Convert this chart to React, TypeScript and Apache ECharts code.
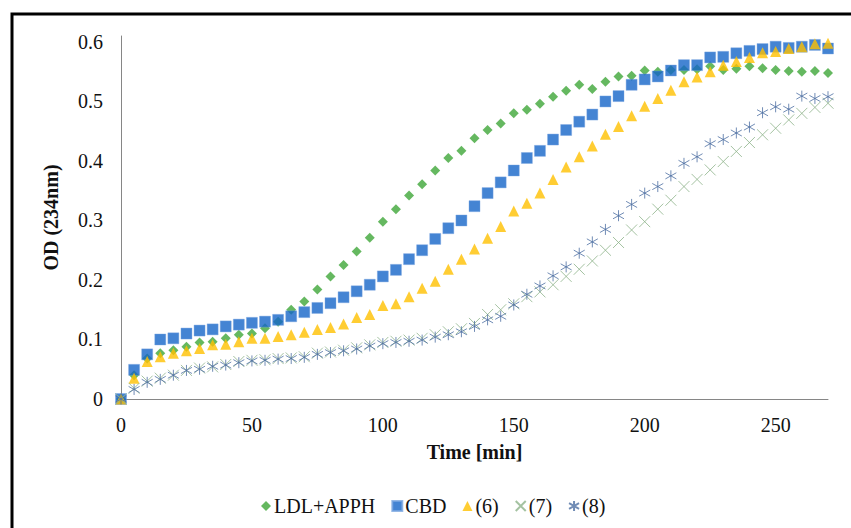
import React, { useEffect, useRef } from "react";
import * as echarts from "echarts";

const times = [
  0, 5, 10, 15, 20, 25, 30, 35, 40, 45, 50, 55, 60, 65, 70, 75, 80, 85, 90, 95,
  100, 105, 110, 115, 120, 125, 130, 135, 140, 145, 150, 155, 160, 165, 170, 175,
  180, 185, 190, 195, 200, 205, 210, 215, 220, 225, 230, 235, 240, 245, 250, 255,
  260, 265, 270,
];

const ldlApph = [
  0, 0.04, 0.068, 0.077, 0.082, 0.088, 0.095, 0.096, 0.102, 0.108, 0.11, 0.119,
  0.13, 0.15, 0.164, 0.184, 0.206, 0.225, 0.248, 0.271, 0.298, 0.319, 0.342,
  0.361, 0.384, 0.405, 0.417, 0.438, 0.452, 0.463, 0.48, 0.486, 0.496, 0.508,
  0.518, 0.528, 0.521, 0.533, 0.542, 0.543, 0.552, 0.55, 0.553, 0.553, 0.554,
  0.559, 0.553, 0.555, 0.559, 0.556, 0.553, 0.551, 0.55, 0.551, 0.548,
];

const cbd = [
  0, 0.049, 0.075, 0.1, 0.102, 0.11, 0.115, 0.117, 0.122, 0.125, 0.128, 0.13,
  0.133, 0.139, 0.146, 0.153, 0.161, 0.171, 0.181, 0.192, 0.206, 0.217, 0.235,
  0.25, 0.269, 0.287, 0.3, 0.324, 0.346, 0.364, 0.384, 0.405, 0.417, 0.436,
  0.452, 0.466, 0.478, 0.5, 0.509, 0.528, 0.537, 0.542, 0.552, 0.561, 0.561,
  0.574, 0.575, 0.581, 0.585, 0.588, 0.592, 0.59, 0.592, 0.595, 0.589,
];

const s6 = [
  0, 0.035, 0.063, 0.071, 0.077, 0.081, 0.085, 0.091, 0.092, 0.096, 0.102, 0.102,
  0.105, 0.108, 0.112, 0.117, 0.12, 0.126, 0.137, 0.142, 0.157, 0.16, 0.172,
  0.186, 0.198, 0.218, 0.235, 0.252, 0.27, 0.29, 0.316, 0.329, 0.346, 0.369,
  0.39, 0.407, 0.425, 0.445, 0.458, 0.476, 0.492, 0.505, 0.519, 0.533, 0.541,
  0.55, 0.561, 0.567, 0.574, 0.582, 0.584, 0.589, 0.592, 0.597, 0.598,
];

const s7 = [
  0, 0.018, 0.03, 0.035, 0.04, 0.048, 0.052, 0.054, 0.058, 0.063, 0.065, 0.066,
  0.068, 0.069, 0.071, 0.077, 0.079, 0.082, 0.086, 0.091, 0.095, 0.097, 0.099,
  0.102, 0.108, 0.113, 0.118, 0.127, 0.142, 0.15, 0.16, 0.172, 0.18, 0.192,
  0.206, 0.218, 0.232, 0.25, 0.263, 0.284, 0.298, 0.319, 0.334, 0.357, 0.369,
  0.385, 0.399, 0.416, 0.431, 0.444, 0.455, 0.469, 0.48, 0.49, 0.497,
];

const s8 = [
  0, 0.016, 0.028, 0.033, 0.04, 0.048, 0.05, 0.055, 0.057, 0.061, 0.064, 0.065,
  0.067, 0.068, 0.07, 0.075, 0.078, 0.081, 0.084, 0.089, 0.093, 0.095, 0.097,
  0.099, 0.104, 0.108, 0.113, 0.122, 0.133, 0.139, 0.158, 0.176, 0.19, 0.207,
  0.222, 0.245, 0.264, 0.285, 0.308, 0.327, 0.346, 0.357, 0.375, 0.396, 0.407,
  0.429, 0.436, 0.447, 0.457, 0.481, 0.491, 0.487, 0.509, 0.505, 0.508,
];

const seriesNames = ["LDL+APPH", "CBD", "(6)", "(7)", "(8)"];

const FONT = "'Liberation Serif', 'Times New Roman', serif";
const X_PATH = "path://M0,0L10,10M0,10L10,0";
const STAR_PATH = "path://M5,0L5,10M0,2.2L10,7.8M0,7.8L10,2.2";

export default function App() {
  const ref = useRef<HTMLDivElement>(null);

  useEffect(() => {
    if (!ref.current) return;
    const chart = echarts.init(ref.current, undefined, { renderer: "svg" });
    const pairs = (vals: number[]) => times.map((t, i) => [t, vals[i]]);

    chart.setOption({
      animation: false,
      backgroundColor: "#ffffff",
      grid: { left: 121, right: 23, top: 36, bottom: 129 },
      graphic: [
        {
          type: "rect",
          shape: { x: 12, y: 14, width: 900, height: 600 },
          style: { fill: "none", stroke: "#000", lineWidth: 3 },
          silent: true,
        },
      ],
      legend: {
        left: 256,
        top: 491,
        itemGap: 16,
        itemWidth: 10,
        itemHeight: 10,
        textStyle: { fontFamily: FONT, fontSize: 20, color: "#111", padding: [0, 0, 0, -2] },
        data: seriesNames,
      },
      xAxis: {
        type: "value",
        min: 0,
        max: 270,
        interval: 50,
        name: "Time [min]",
        nameLocation: "middle",
        nameGap: 43,
        nameTextStyle: { fontFamily: FONT, fontSize: 20, fontWeight: "bold", color: "#111" },
        axisLine: { lineStyle: { color: "#868686", width: 1 } },
        axisTick: { show: false },
        splitLine: { show: false },
        axisLabel: {
          fontFamily: FONT,
          fontSize: 20,
          color: "#111",
          margin: 16,
          showMaxLabel: false,
        },
      },
      yAxis: {
        type: "value",
        min: 0,
        max: 0.61,
        interval: 0.1,
        name: "OD (234nm)",
        nameLocation: "middle",
        nameGap: 60,
        nameRotate: 90,
        nameTextStyle: { fontFamily: FONT, fontSize: 20, fontWeight: "bold", color: "#111" },
        axisLine: { show: true, lineStyle: { color: "#868686", width: 1 } },
        axisTick: { show: false },
        splitLine: { show: false },
        axisLabel: {
          fontFamily: FONT,
          fontSize: 20,
          color: "#111",
          margin: 18,
          showMaxLabel: false,
          formatter: (v: number) => (v === 0 ? "0" : v.toFixed(1)),
        },
      },
      series: [
        {
          name: seriesNames[0],
          type: "scatter",
          symbol: "diamond",
          symbolSize: 10,
          itemStyle: { color: "#3fa638" },
          data: pairs(ldlApph),
        },
        {
          name: seriesNames[1],
          type: "scatter",
          symbol: "rect",
          symbolSize: 11,
          itemStyle: { color: "#1565c8", borderColor: "#7aa6e0", borderWidth: 0.5 },
          data: pairs(cbd),
        },
        {
          name: seriesNames[2],
          type: "scatter",
          symbol: "triangle",
          symbolSize: 11,
          itemStyle: { color: "#ffc000" },
          data: pairs(s6),
        },
        {
          name: seriesNames[3],
          type: "scatter",
          symbol: X_PATH,
          symbolSize: 11,
          itemStyle: { color: "transparent", borderColor: "#8db389", borderWidth: 1 },
          data: pairs(s7),
        },
        {
          name: seriesNames[4],
          type: "scatter",
          symbol: STAR_PATH,
          symbolSize: 11,
          itemStyle: { color: "transparent", borderColor: "#4d6fa3", borderWidth: 1 },
          data: pairs(s8),
        },
      ],
    });

    return () => chart.dispose();
  }, []);

  return (
    <div
      ref={ref}
      style={{ position: "fixed", left: 0, top: 0, width: 851, height: 528, background: "#fff" }}
    />
  );
}
